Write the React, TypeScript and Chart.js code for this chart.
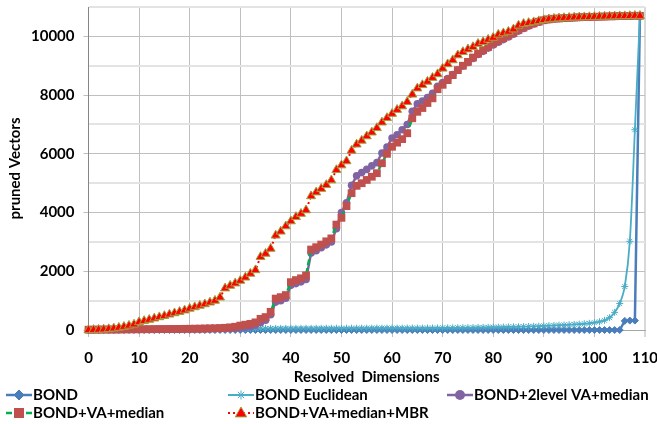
import React, { useEffect, useRef } from 'react';
import { Chart, registerables } from 'chart.js';

Chart.register(...registerables);

const dims = [
  0, 1, 2, 3, 4, 5, 6, 7, 8, 9,
  10, 11, 12, 13, 14, 15, 16, 17, 18, 19,
  20, 21, 22, 23, 24, 25, 26, 27, 28, 29,
  30, 31, 32, 33, 34, 35, 36, 37, 38, 39,
  40, 41, 42, 43, 44, 45, 46, 47, 48, 49,
  50, 51, 52, 53, 54, 55, 56, 57, 58, 59,
  60, 61, 62, 63, 64, 65, 66, 67, 68, 69,
  70, 71, 72, 73, 74, 75, 76, 77, 78, 79,
  80, 81, 82, 83, 84, 85, 86, 87, 88, 89,
  90, 91, 92, 93, 94, 95, 96, 97, 98, 99,
  100, 101, 102, 103, 104, 105, 106, 107, 108, 109,
];

const bond = [
  0, 0, 0, 0, 0, 0, 0, 0, 0, 0,
  0, 0, 0, 0, 0, 0, 0, 0, 0, 0,
  0, 0, 0, 0, 0, 0, 0, 0, 0, 0,
  0, 0, 0, 0, 0, 0, 0, 0, 0, 0,
  0, 0, 0, 0, 0, 0, 0, 0, 0, 0,
  0, 0, 0, 0, 0, 0, 0, 0, 0, 0,
  0, 0, 0, 0, 0, 0, 0, 0, 0, 0,
  0, 0, 0, 0, 0, 0, 0, 0, 0, 0,
  0, 0, 0, 0, 0, 0, 0, 0, 0, 0,
  0, 0, 0, 0, 0, 0, 0, 0, 0, 0,
  0, 0, 0, 0, 0, 0, 310, 320, 320, 10700,
];

const bondEuclidean = [
  0, 5, 8, 12, 15, 18, 20, 22, 25, 27,
  28, 30, 32, 33, 35, 36, 38, 39, 40, 41,
  42, 43, 44, 45, 46, 47, 48, 49, 50, 50,
  51, 52, 52, 53, 54, 54, 55, 55, 56, 56,
  57, 57, 58, 58, 58, 59, 59, 60, 60, 60,
  61, 61, 61, 62, 62, 62, 63, 63, 63, 64,
  64, 64, 65, 65, 66, 66, 67, 67, 68, 68,
  70, 72, 74, 76, 78, 80, 83, 86, 89, 92,
  95, 98, 101, 104, 107, 110, 115, 120, 125, 130,
  140, 148, 155, 162, 170, 180, 190, 200, 212, 228,
  248, 280, 330, 420, 600, 900, 1480, 3020, 6820, 10700,
];

const bond2levelVA = [
  5, 6, 8, 9, 10, 11, 12, 14, 15, 16,
  17, 18, 19, 20, 22, 23, 24, 26, 28, 30,
  32, 34, 36, 38, 40, 43, 46, 50, 55, 62,
  75, 95, 120, 160, 250, 330, 520, 950, 1000, 1080,
  1520, 1580, 1640, 1720, 2620, 2700, 2800, 2900, 3000, 3450,
  4000, 4330, 4930, 5250, 5360, 5470, 5590, 5700, 6030, 6230,
  6540, 6650, 6820, 7000, 7450, 7700, 7800, 7920, 8060, 8300,
  8430, 8560, 8700, 8850, 8990, 9110, 9250, 9380, 9490, 9600,
  9710, 9800, 9890, 9980, 10070, 10180, 10270, 10350, 10420, 10480,
  10540, 10570, 10590, 10605, 10615, 10625, 10635, 10645, 10650, 10655,
  10660, 10665, 10670, 10675, 10680, 10685, 10690, 10695, 10700, 10700,
];

const bondVAMedian = [
  10, 12, 14, 15, 17, 18, 20, 22, 23, 25,
  26, 28, 29, 30, 32, 33, 35, 36, 38, 40,
  42, 45, 48, 52, 56, 60, 66, 75, 90, 110,
  150, 180, 210, 260, 380, 440, 620, 1070, 1120, 1190,
  1630, 1700, 1760, 1860, 2740, 2820, 2910, 3020, 3120, 3590,
  3820, 4220, 4660, 4910, 5000, 5110, 5220, 5340, 5680, 6000,
  6240, 6380, 6500, 6700, 7210, 7430, 7560, 7730, 7890, 8200,
  8350, 8510, 8680, 8850, 9000, 9130, 9280, 9410, 9530, 9640,
  9760, 9850, 9940, 10030, 10110, 10220, 10300, 10380, 10440, 10500,
  10550, 10580, 10600, 10610, 10620, 10630, 10640, 10650, 10655, 10660,
  10665, 10670, 10675, 10680, 10685, 10690, 10690, 10695, 10700, 10700,
];

const bondVAMedianMBR = [
  0, 5, 10, 20, 35, 55, 80, 110, 150, 190,
  270, 310, 350, 395, 440, 480, 530, 575, 620, 670,
  730, 780, 830, 880, 940, 1000, 1110, 1420, 1510, 1590,
  1680, 1790, 1920, 2040, 2490, 2600, 2770, 3220, 3355, 3535,
  3705, 3850, 3960, 4080, 4560, 4690, 4810, 4940, 5100, 5450,
  5610, 5750, 6110, 6320, 6450, 6600, 6730, 6880, 7070, 7220,
  7365, 7500, 7620, 7770, 8020, 8230, 8345, 8460, 8590, 8715,
  8905, 9055, 9190, 9360, 9470, 9560, 9640, 9750, 9810, 9890,
  9955, 10060, 10110, 10160, 10240, 10370, 10430, 10460, 10485, 10520,
  10560, 10585, 10600, 10615, 10625, 10635, 10645, 10650, 10655, 10660,
  10665, 10670, 10675, 10680, 10685, 10690, 10690, 10695, 10700, 10700,
];

const seriesNames = [
  'BOND',
  'BOND Euclidean',
  'BOND+2level VA+median',
  'BOND+VA+median',
  'BOND+VA+median+MBR',
];

const xAxisTitle = 'Resolved  Dimensions';
const yAxisTitle = 'pruned Vectors';

const yTickValues = [0, 1000, 2000, 3000, 4000, 5000, 6000, 7000, 8000, 9000, 10000, 11000];

const FONT = 'Lato, "Open Sans", "DejaVu Sans", sans-serif';

const C_BOND = '#4a7ebb';
const C_EUCL = '#4bacc6';
const C_2LVL = '#8064a2';
const C_SQ = '#c0504d';
const C_GREEN = '#00b050';
const C_RED = '#ff0000';
const C_OLIVE = '#a0a040';

function drawMarker(ctx: CanvasRenderingContext2D, kind: string, x: number, y: number, fill: string, stroke: string) {
  ctx.save();
  ctx.setLineDash([]);
  ctx.fillStyle = fill;
  ctx.strokeStyle = stroke;
  ctx.lineWidth = 1;
  ctx.beginPath();
  if (kind === 'diamond') {
    const r = 5;
    ctx.moveTo(x, y - r);
    ctx.lineTo(x + r, y);
    ctx.lineTo(x, y + r);
    ctx.lineTo(x - r, y);
    ctx.closePath();
    ctx.fill();
    ctx.stroke();
  } else if (kind === 'star') {
    const r = 4.5;
    for (let k = 0; k < 4; k++) {
      const a = (k * Math.PI) / 4;
      ctx.moveTo(x - Math.cos(a) * r, y - Math.sin(a) * r);
      ctx.lineTo(x + Math.cos(a) * r, y + Math.sin(a) * r);
    }
    ctx.stroke();
  } else if (kind === 'circle') {
    ctx.arc(x, y, 5, 0, Math.PI * 2);
    ctx.fill();
  } else if (kind === 'square') {
    ctx.rect(x - 5, y - 5, 10, 10);
    ctx.fill();
  } else if (kind === 'triangle') {
    const r = 6;
    ctx.moveTo(x, y - r);
    ctx.lineTo(x + r * 0.95, y + r * 0.65);
    ctx.lineTo(x - r * 0.95, y + r * 0.65);
    ctx.closePath();
    ctx.fill();
    ctx.stroke();
  }
  ctx.restore();
}

export default function App() {
  const ref = useRef<HTMLCanvasElement | null>(null);

  useEffect(() => {
    if (!ref.current) return;
    const pts = (arr: number[]) => dims.map((d, i) => ({ x: d, y: arr[i] }));

    const legendItems = [
      { name: seriesNames[0], lx: 6, ty: 395, color: C_BOND, dash: [] as number[], lw: 2.5, marker: 'diamond', mf: C_BOND, ms: C_BOND },
      { name: seriesNames[1], lx: 228, ty: 395, color: C_EUCL, dash: [] as number[], lw: 2, marker: 'star', mf: C_EUCL, ms: C_EUCL },
      { name: seriesNames[2], lx: 447, ty: 395, color: C_2LVL, dash: [] as number[], lw: 2.5, marker: 'circle', mf: C_2LVL, ms: C_2LVL },
      { name: seriesNames[3], lx: 6, ty: 413, color: C_GREEN, dash: [6, 4], lw: 2.5, marker: 'square', mf: C_SQ, ms: C_SQ },
      { name: seriesNames[4], lx: 228, ty: 413, color: C_RED, dash: [2, 3], lw: 2, marker: 'triangle', mf: C_RED, ms: C_OLIVE },
    ];

    const textPlugin = {
      id: 'customLegendAndTitles',
      afterDraw(chart: any) {
        const ctx: CanvasRenderingContext2D = chart.ctx;
        const area = chart.chartArea;
        ctx.save();
        ctx.font = `bold 15px ${FONT}`;
        ctx.fillStyle = '#000';
        ctx.textBaseline = 'middle';
        ctx.textAlign = 'center';
        ctx.fillText(xAxisTitle, (area.left + area.right) / 2, 377);
        ctx.save();
        ctx.translate(15, (area.top + area.bottom) / 2);
        ctx.rotate(-Math.PI / 2);
        ctx.fillText(yAxisTitle, 0, 0);
        ctx.restore();
        ctx.textAlign = 'left';
        for (const it of legendItems) {
          ctx.save();
          ctx.strokeStyle = it.color;
          ctx.lineWidth = it.lw;
          ctx.setLineDash(it.dash);
          ctx.beginPath();
          ctx.moveTo(it.lx, it.ty);
          ctx.lineTo(it.lx + 26, it.ty);
          ctx.stroke();
          ctx.restore();
          drawMarker(ctx, it.marker, it.lx + 13, it.ty, it.mf, it.ms);
          ctx.fillStyle = '#000';
          ctx.fillText(it.name, it.lx + 27, it.ty);
        }
        ctx.restore();
      },
    };

    const tickFont = { family: FONT, size: 15, weight: 'bold' as const };

    const chart = new Chart(ref.current, {
      type: 'scatter',
      data: {
        datasets: [
          {
            label: seriesNames[0],
            data: pts(bond),
            showLine: true,
            borderColor: C_BOND,
            backgroundColor: C_BOND,
            borderWidth: 2.5,
            pointStyle: 'rectRot',
            pointRadius: 3.5,
            pointBorderWidth: 1,
            order: 5,
            clip: false,
          },
          {
            label: seriesNames[1],
            data: pts(bondEuclidean),
            showLine: true,
            borderColor: C_EUCL,
            backgroundColor: C_EUCL,
            borderWidth: 1.8,
            tension: 0.3,
            pointStyle: 'star',
            pointRadius: 3.5,
            pointBorderWidth: 1,
            order: 4,
            clip: false,
          },
          {
            label: seriesNames[2],
            data: pts(bond2levelVA),
            showLine: true,
            borderColor: C_2LVL,
            backgroundColor: C_2LVL,
            borderWidth: 2.5,
            pointStyle: 'circle',
            pointRadius: 3.8,
            pointBorderWidth: 0,
            order: 3,
            clip: false,
          },
          {
            label: seriesNames[3],
            data: pts(bondVAMedian),
            showLine: true,
            borderColor: C_GREEN,
            backgroundColor: C_SQ,
            borderDash: [6, 3],
            borderWidth: 2.5,
            pointStyle: 'rect',
            pointRadius: 5.5,
            pointBorderWidth: 0,
            pointBackgroundColor: C_SQ,
            pointBorderColor: C_SQ,
            order: 2,
            clip: false,
          },
          {
            label: seriesNames[4],
            data: pts(bondVAMedianMBR),
            showLine: true,
            borderColor: C_RED,
            backgroundColor: C_RED,
            borderDash: [2, 3],
            borderWidth: 2,
            pointStyle: 'triangle',
            pointRadius: 5.2,
            pointBorderWidth: 1,
            pointBackgroundColor: C_RED,
            pointBorderColor: C_OLIVE,
            order: 1,
            clip: false,
          },
        ],
      },
      options: {
        responsive: false,
        animation: false,
        devicePixelRatio: 1,
        layout: { padding: { left: 22, right: 12, top: 7, bottom: 45 } },
        plugins: { legend: { display: false }, tooltip: { enabled: false } },
        scales: {
          x: {
            type: 'linear',
            min: 0,
            max: 110,
            afterFit: (s: any) => {
              s.paddingRight = 0;
              s.paddingLeft = 0;
            },
            ticks: { stepSize: 10, font: tickFont, color: '#000', padding: 12, maxRotation: 0 },
            grid: {
              color: (c: any) => (c.tick && c.tick.value === 110 ? '#d9d9d9' : '#bfbfbf'),
              lineWidth: (c: any) => (c.tick && c.tick.value === 110 ? 2 : 1),
              tickLength: 7,
            },
            border: { display: true, color: '#a6a6a6' },
          },
          y: {
            min: 0,
            max: 11000,
            afterBuildTicks: (s: any) => {
              s.ticks = yTickValues.map((v) => ({ value: v }));
            },
            afterFit: (s: any) => {
              s.paddingTop = 0;
              s.paddingBottom = 0;
            },
            ticks: {
              callback: (v: any) => (Number(v) % 2000 === 0 && Number(v) < 11000 ? String(v) : ''),
              font: tickFont,
              color: '#000',
              padding: 9,
            },
            grid: {
              color: (c: any) => (c.tick && c.tick.value % 2000 === 0 ? '#bfbfbf' : '#e3e3e3'),
              lineWidth: (c: any) => (c.tick && c.tick.value % 2000 === 0 ? 1 : 2),
              tickLength: 5,
              tickColor: (c: any) => (c.tick && c.tick.value % 2000 === 0 ? '#bfbfbf' : 'rgba(0,0,0,0)'),
            },
            border: { color: '#868686' },
          },
        },
      },
      plugins: [textPlugin],
    });

    return () => chart.destroy();
  }, []);

  return (
    <div style={{ position: 'absolute', left: 0, top: 0, width: 657, height: 424, background: '#fff' }}>
      <canvas ref={ref} width={657} height={424} style={{ display: 'block' }} />
    </div>
  );
}
